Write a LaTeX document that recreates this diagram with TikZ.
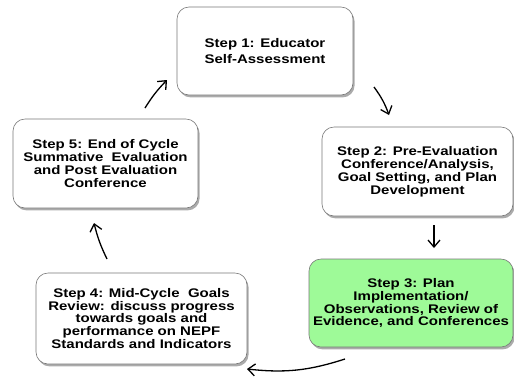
\documentclass[tikz,border=0pt]{standalone}
\usepackage{fontspec}
\setmainfont{Liberation Sans}[FakeStretch=1.2]
\usetikzlibrary{arrows.meta,shadows}
\definecolor{stepgreen}{RGB}{158,250,152}
\definecolor{boxline}{RGB}{120,120,120}
\begin{document}
\begin{tikzpicture}[x=1pt,y=-1pt,
  stepbox/.style={draw=boxline, line width=0.6pt, fill=white, rounded corners=12pt,
    align=center, inner sep=0pt, font=\bfseries\fontsize{12.5}{12.9}\selectfont,
    drop shadow={shadow xshift=1.6pt, shadow yshift=-2.4pt, opacity=0.55, fill=black!60}},
  cyc/.style={line width=1.3pt, -{Straight Barb[length=7pt,width=12pt,line width=1.3pt]}}]
\useasboundingbox (0,0) rectangle (514,376);
\node[stepbox, minimum width=176pt, minimum height=88pt] (s1) at (265,51)
  {Step 1: Educator\\[4pt]Self-Assessment};
\node[stepbox, minimum width=191pt, minimum height=89pt] (s2) at (417.5,171.5)
  {Step 2: Pre-Evaluation\\Conference/Analysis,\\Goal Setting, and Plan\\Development};
\node[stepbox, fill=stepgreen, minimum width=204pt, minimum height=88pt] (s3) at (411,303)
  {Step 3: Plan\\Implementation/\\Observations, Review of\\Evidence, and Conferences};
\node[stepbox, minimum width=211pt, minimum height=91pt] (s4) at (141.5,318.5)
  {Step 4: Mid-Cycle\ \ Goals\\Review: discuss progress\\towards goals and\\performance on NEPF\\Standards and Indicators};
\node[stepbox, minimum width=185pt, minimum height=89pt] (s5) at (105.5,163.5)
  {Step 5: End of Cycle\\Summative\ \ Evaluation\\and Post Evaluation\\Conference};
\coordinate (a1s) at (374,87);
\coordinate (a1e) at (389,115);
\coordinate (a2s) at (434,225);
\coordinate (a2e) at (434,248);
\coordinate (a3s) at (345,359);
\coordinate (a3e) at (247,369);
\coordinate (a4s) at (107,259);
\coordinate (a4e) at (94,223);
\coordinate (a5s) at (145,108);
\coordinate (a5e) at (167,80);
\draw[cyc] (a1s) to[bend left=8] (a1e);
\draw[cyc] (a2s) -- (a2e);
\draw[cyc] (a3s) to[bend left=12] (a3e);
\draw[cyc] (a4s) to[bend left=6] (a4e);
\draw[cyc] (a5s) to[bend left=6] (a5e);
\end{tikzpicture}
\end{document}
